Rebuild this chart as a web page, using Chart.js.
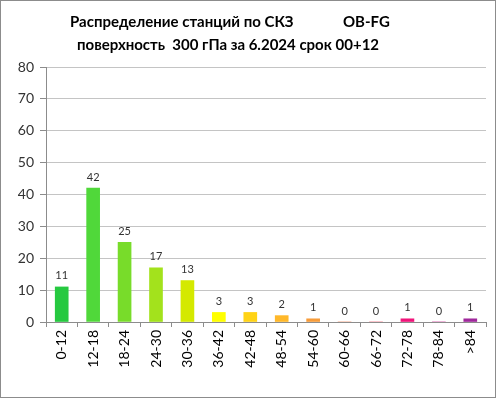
<!DOCTYPE html>
<html>
<head>
<meta charset="utf-8">
<script src="https://cdn.jsdelivr.net/npm/chart.js@4"></script>
<style>
  body { margin: 0; background: #fff; }
  #wrap { position: absolute; left: 0; top: 0; width: 494px; height: 396px; border: 1px solid #8c8c8c; }
  #box { position: absolute; left: 0; top: 0; width: 496px; height: 399px; }
</style>
</head>
<body>
<div id="wrap"></div>
<div id="box"><canvas id="skzChart"></canvas></div>
<script>
const categories = ["0-12", "12-18", "18-24", "24-30", "30-36", "36-42", "42-48", "48-54", "54-60", "60-66", "66-72", "72-78", "78-84", ">84"];
const counts = [11, 42, 25, 17, 13, 3, 3, 2, 1, 0, 0, 1, 0, 1];
const barColors = ["#26c940", "#50d83a", "#78dc2a", "#a3e21c", "#d4e900", "#ffff00", "#ffd316", "#ffb82a", "#f79c3a", "#f07c50", "#f05064", "#f0147a", "#c81e8c", "#a0289c"];
const titleLines = ["Распределение станций по СКЗ", "OB-FG", "поверхность  300 гПа за 6.2024 срок 00+12"];

const valueLabels = {
    id: "valueLabels",
    afterDatasetsDraw(chart) {
        const ctx = chart.ctx;
        const meta = chart.getDatasetMeta(0);
        ctx.save();
        ctx.font = "11px Lato, 'Open Sans', sans-serif";
        ctx.fillStyle = "#333";
        ctx.textAlign = "center";
        ctx.textBaseline = "middle";
        meta.data.forEach((bar, i) => {
            ctx.fillText(counts[i], bar.x, bar.y - 11);
        });
        ctx.restore();
    }
};

const titleText = {
    id: "titleText",
    afterDraw(chart) {
        const ctx = chart.ctx;
        ctx.save();
        ctx.font = "bold 15px Lato, 'Open Sans', sans-serif";
        ctx.fillStyle = "#000";
        ctx.textBaseline = "middle";
        ctx.textAlign = "left";
        ctx.fillText(titleLines[0], 70, 22);
        ctx.fillText(titleLines[1], 343, 22);
        ctx.textAlign = "center";
        ctx.fillText(titleLines[2], 228, 45);
        ctx.restore();
    }
};

new Chart(document.getElementById("skzChart"), {
    type: "bar",
    data: {
        labels: categories,
        datasets: [
            {
                data: counts,
                backgroundColor: barColors,
                barThickness: 13
            }
        ]
    },
    options: {
        responsive: true,
        maintainAspectRatio: false,
        animation: false,
        layout: {
            padding: { top: 67, right: 10, left: 0, bottom: 0 }
        },
        plugins: {
            legend: { display: false },
            tooltip: { enabled: false }
        },
        scales: {
            x: {
                grid: {
                    offset: true,
                    drawOnChartArea: false,
                    tickLength: 5,
                    color: "#8c8c8c"
                },
                border: { color: "#8c8c8c" },
                ticks: {
                    maxRotation: 90,
                    minRotation: 90,
                    color: "#000",
                    font: { size: 14, family: "Lato, 'Open Sans', sans-serif" }
                },
                afterFit: s => { s.height = 77; }
            },
            y: {
                min: 0,
                max: 80,
                ticks: {
                    stepSize: 10,
                    color: "#333",
                    padding: 6,
                    font: { size: 14, family: "Lato, 'Open Sans', sans-serif" }
                },
                grid: {
                    color: "#c4c4c4",
                    tickLength: 6,
                    tickColor: "#8c8c8c"
                },
                border: { color: "#8c8c8c" },
                afterFit: s => { s.width = 46; }
            }
        }
    },
    plugins: [valueLabels, titleText]
});
</script>
</body>
</html>
